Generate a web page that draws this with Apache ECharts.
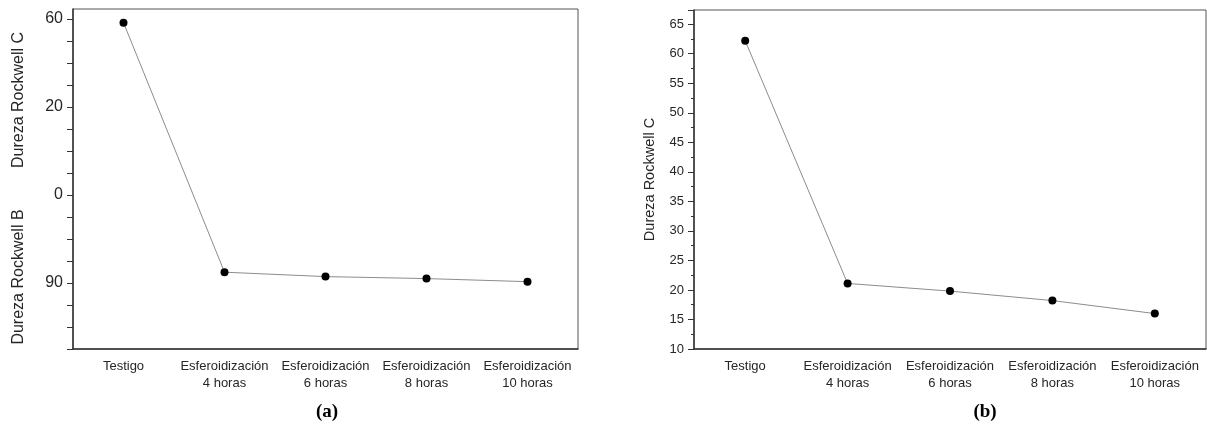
<!DOCTYPE html>
<html>
<head>
<meta charset="utf-8">
<script src="https://cdn.jsdelivr.net/npm/echarts@6/dist/echarts.min.js"></script>
<style>
html,body{margin:0;padding:0;background:#fff;}
#chart{width:1207px;height:425px;}
</style>
</head>
<body>
<div id="chart"></div>
<script>
// Categories (shared by both panels)
var categories = ['Testigo', 'Esferoidización\n4 horas', 'Esferoidización\n6 horas', 'Esferoidización\n8 horas', 'Esferoidización\n10 horas'];

// Panel (a): composite Rockwell C / Rockwell B axis, values given as position on the broken axis
// (axis position 12 = "60" HRC, 8 = "20" HRC, 4 = "0", 0 = "90" HRB)
var seriesA = [11.83, 0.49, 0.29, 0.20, 0.06];
var tickLabelsA = {12: '60', 8: '20', 4: '0', 0: '90'};

// Panel (b): Dureza Rockwell C
var seriesB = [62.2, 21.1, 19.8, 18.2, 16.0];

var FONT = 'Liberation Sans, Arial, Helvetica, sans-serif';
var TXT = '#262626';
var AX = '#333';

var chart = echarts.init(document.getElementById('chart'), null, {renderer: 'canvas'});

function xAxisCfg(gridIndex) {
  return {
    type: 'category',
    gridIndex: gridIndex,
    data: categories,
    boundaryGap: true,
    axisLine: {onZero: false, lineStyle: {color: AX, width: 1.5}},
    axisTick: {alignWithLabel: true, length: 5, lineStyle: {color: AX, width: 1}},
    axisLabel: {interval: 0, color: TXT, fontSize: 13, fontFamily: FONT, margin: 9, lineHeight: 17},
    splitLine: {show: false}
  };
}

var option = {
  backgroundColor: '#fff',
  animation: false,
  grid: [
    {left: 73, top: 9, width: 505, height: 340, show: true, borderColor: '#555', borderWidth: 1, containLabel: false},
    {left: 694, top: 10, width: 512, height: 339, show: true, borderColor: '#555', borderWidth: 1, containLabel: false}
  ],
  xAxis: [xAxisCfg(0), xAxisCfg(1)],
  yAxis: [
    {
      type: 'value', gridIndex: 0,
      min: -3, max: 12.45, interval: 1,
      axisLine: {show: true, onZero: false, lineStyle: {color: AX, width: 1.5}},
      axisTick: {show: true, length: 6, lineStyle: {color: AX, width: 1}},
      axisLabel: {
        color: TXT, fontSize: 16, fontFamily: FONT, margin: 10, showMaxLabel: false,
        formatter: function (v) { var k = Math.round(v); return (Math.abs(v - k) < 1e-6 && tickLabelsA[k] !== undefined) ? tickLabelsA[k] : ''; }
      },
      splitLine: {show: false}
    },
    {
      type: 'value', gridIndex: 1,
      min: 10, max: 67.4, interval: 5,
      name: 'Dureza Rockwell C', nameLocation: 'middle', nameGap: 37,
      nameTextStyle: {color: TXT, fontSize: 14.5, fontFamily: FONT},
      axisLine: {show: true, onZero: false, lineStyle: {color: AX, width: 1.5}},
      axisTick: {show: true, length: 6, lineStyle: {color: AX, width: 1}},
      minorTick: {show: true, splitNumber: 2, length: 3, lineStyle: {color: AX, width: 1}},
      axisLabel: {color: TXT, fontSize: 13, fontFamily: FONT, margin: 10, showMaxLabel: false},
      splitLine: {show: false}
    }
  ],
  series: [
    {
      type: 'line', xAxisIndex: 0, yAxisIndex: 0, data: seriesA,
      symbol: 'circle', symbolSize: 8,
      lineStyle: {color: '#8c8c8c', width: 1},
      itemStyle: {color: '#000'}
    },
    {
      type: 'line', xAxisIndex: 1, yAxisIndex: 1, data: seriesB,
      symbol: 'circle', symbolSize: 8,
      lineStyle: {color: '#8c8c8c', width: 1},
      itemStyle: {color: '#000'}
    }
  ],
  graphic: [
    {type: 'text', x: 19, y: 100, rotation: Math.PI / 2,
     style: {text: 'Dureza Rockwell C', fill: TXT, font: '16px ' + FONT, textAlign: 'center', textVerticalAlign: 'middle'}},
    {type: 'text', x: 19, y: 277, rotation: Math.PI / 2,
     style: {text: 'Dureza Rockwell B', fill: TXT, font: '16px ' + FONT, textAlign: 'center', textVerticalAlign: 'middle'}},
    {type: 'text', x: 327, y: 412,
     style: {text: '(a)', fill: '#000', font: 'bold 19px Liberation Serif, Times New Roman, serif', textAlign: 'center', textVerticalAlign: 'middle'}},
    {type: 'text', x: 985, y: 412,
     style: {text: '(b)', fill: '#000', font: 'bold 19px Liberation Serif, Times New Roman, serif', textAlign: 'center', textVerticalAlign: 'middle'}}
  ]
};
chart.setOption(option);
</script>
</body>
</html>
